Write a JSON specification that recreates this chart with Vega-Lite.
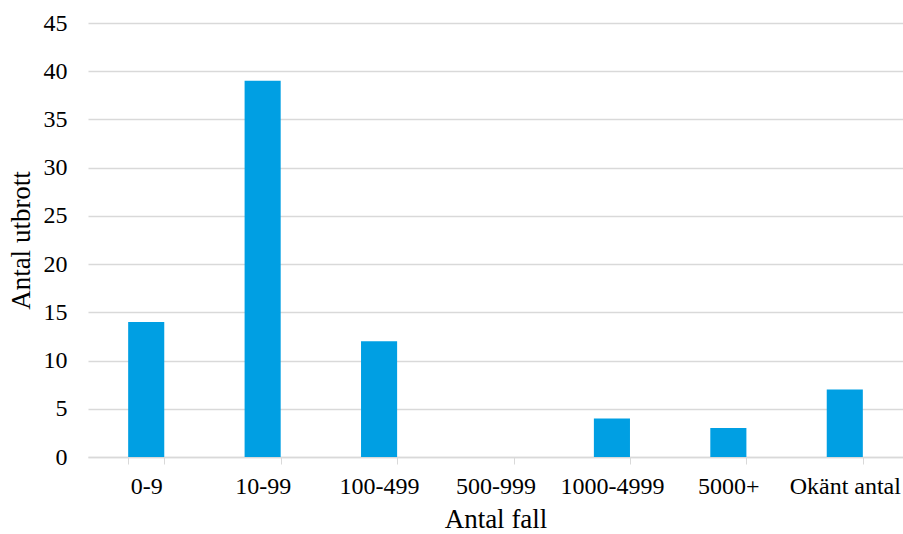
{
  "$schema": "https://vega.github.io/schema/vega-lite/v6.json",
  "width": 815,
  "height": 434,
  "autosize": {"type": "none"},
  "padding": {"left": 88, "top": 23, "right": 0, "bottom": 77},
  "background": "white",
  "config": {
    "view": {"stroke": null},
    "font": "Liberation Serif",
    "axis": {
      "labelFont": "Liberation Serif",
      "labelFontSize": 24,
      "labelColor": "#000000",
      "titleFont": "Liberation Serif",
      "titleFontSize": 27,
      "titleFontWeight": "normal",
      "titleColor": "#000000"
    }
  },
  "data": {
    "values": [
      {"kategori": "0-9", "antal": 14},
      {"kategori": "10-99", "antal": 39},
      {"kategori": "100-499", "antal": 12},
      {"kategori": "500-999", "antal": 0},
      {"kategori": "1000-4999", "antal": 4},
      {"kategori": "5000+", "antal": 3},
      {"kategori": "Okänt antal", "antal": 7}
    ]
  },
  "mark": {"type": "bar", "color": "#009fe3"},
  "encoding": {
    "x": {
      "field": "kategori",
      "type": "nominal",
      "sort": null,
      "scale": {"paddingInner": 0.69, "paddingOuter": 0.345},
      "axis": {
        "title": "Antal fall",
        "titlePadding": 8,
        "labelAngle": 0,
        "labelPadding": 10,
        "tickBand": "extent",
        "tickSize": 7,
        "tickColor": "#d9d9d9",
        "domainColor": "#d9d9d9",
        "domainWidth": 1.5,
        "grid": false
      }
    },
    "y": {
      "field": "antal",
      "type": "quantitative",
      "scale": {"domain": [0, 45], "nice": false},
      "axis": {
        "title": "Antal utbrott",
        "titlePadding": 8,
        "values": [0, 5, 10, 15, 20, 25, 30, 35, 40, 45],
        "labelPadding": 21,
        "ticks": false,
        "domain": false,
        "grid": true,
        "gridColor": "#d9d9d9",
        "gridWidth": 1.5
      }
    }
  }
}
